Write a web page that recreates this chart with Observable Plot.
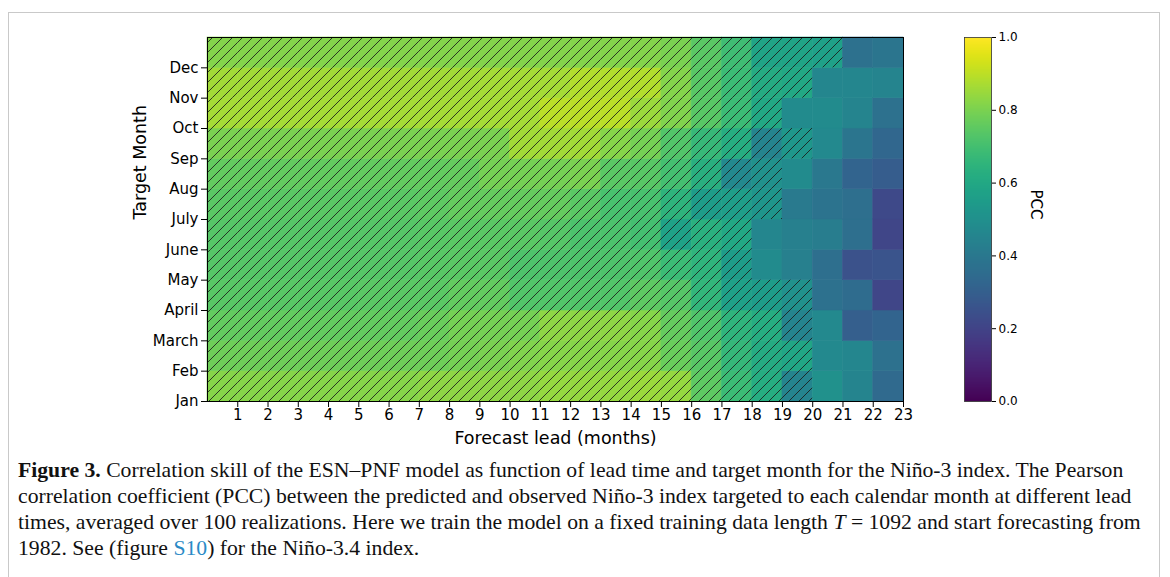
<!DOCTYPE html>
<html>
<head>
<meta charset="utf-8">
<script src="https://cdn.jsdelivr.net/npm/d3@7"></script>
<script src="https://cdn.jsdelivr.net/npm/@observablehq/plot@0.6"></script>
<style>
  html, body { margin: 0; padding: 0; background: #fff; }
  body { width: 1170px; height: 577px; overflow: hidden; position: relative; }
  #frame { position: absolute; left: 8px; top: 12px; width: 1152px; height: 620px; border: 1px solid #c9c9c9; box-sizing: border-box; }
  #main { position: absolute; left: 0; top: 0; }
  #cbar { position: absolute; left: 963px; top: 0; }
  #caption { position: absolute; left: 18px; top: 457px; font-family: "Liberation Serif", serif; font-size: 21.7px; line-height: 26px; color: #111; white-space: nowrap; }
  #caption .lnk { color: #2a8ac6; }
</style>
</head>
<body>
<div id="frame"></div>
<div id="main"></div>
<div id="cbar"></div>
<div id="caption">
<b>Figure 3.</b> Correlation skill of the ESN–PNF model as function of lead time and target month for the Niño-3 index. The Pearson<br>
correlation coefficient (PCC) between the predicted and observed Niño-3 index targeted to each calendar month at different lead<br>
times, averaged over 100 realizations. Here we train the model on a fixed training data length <i>T</i> = 1092 and start forecasting from<br>
1982. See (figure <span class="lnk">S10</span>) for the Niño-3.4 index.
</div>
<script>
// Target month labels (row order, bottom to top)
const monthLabels = ["Jan", "Feb", "March", "April", "May", "June", "July", "Aug", "Sep", "Oct", "Nov", "Dec"];
// Forecast leads 1..23
const leads = [1,2,3,4,5,6,7,8,9,10,11,12,13,14,15,16,17,18,19,20,21,22,23];
// PCC per target month, leads 1..23
const pccJan  = [0.82,0.82,0.82,0.82,0.82,0.82,0.82,0.83,0.83,0.83,0.83,0.84,0.84,0.84,0.85,0.84,0.75,0.68,0.62,0.45,0.50,0.45,0.34];
const pccFeb  = [0.78,0.78,0.78,0.78,0.78,0.78,0.78,0.78,0.79,0.80,0.81,0.82,0.82,0.82,0.82,0.77,0.74,0.665,0.61,0.59,0.47,0.46,0.37];
const pccMar  = [0.76,0.76,0.76,0.76,0.76,0.76,0.76,0.77,0.79,0.79,0.79,0.83,0.83,0.83,0.82,0.765,0.725,0.65,0.62,0.45,0.47,0.30,0.32];
const pccApr  = [0.74,0.74,0.74,0.74,0.74,0.745,0.745,0.745,0.76,0.76,0.73,0.73,0.73,0.73,0.75,0.735,0.66,0.57,0.55,0.50,0.37,0.35,0.21];
const pccMay  = [0.735,0.735,0.735,0.735,0.735,0.735,0.735,0.74,0.745,0.745,0.72,0.72,0.72,0.72,0.725,0.68,0.65,0.55,0.48,0.43,0.36,0.25,0.26];
const pccJun  = [0.735,0.735,0.735,0.735,0.735,0.735,0.735,0.74,0.745,0.745,0.745,0.735,0.715,0.715,0.70,0.575,0.635,0.60,0.46,0.43,0.42,0.36,0.21];
const pccJul  = [0.745,0.745,0.745,0.745,0.745,0.745,0.745,0.75,0.765,0.765,0.765,0.765,0.745,0.71,0.71,0.645,0.55,0.555,0.52,0.41,0.38,0.36,0.22];
const pccAug  = [0.76,0.76,0.76,0.76,0.76,0.76,0.76,0.76,0.765,0.79,0.79,0.79,0.80,0.745,0.74,0.70,0.63,0.47,0.50,0.48,0.40,0.32,0.29];
const pccSep  = [0.80,0.80,0.80,0.80,0.80,0.80,0.80,0.80,0.80,0.80,0.86,0.86,0.86,0.82,0.79,0.73,0.67,0.62,0.45,0.53,0.47,0.39,0.33];
const pccOct  = [0.865,0.865,0.865,0.865,0.865,0.865,0.865,0.865,0.865,0.865,0.865,0.895,0.895,0.895,0.85,0.81,0.74,0.68,0.60,0.48,0.48,0.45,0.37];
const pccNov  = [0.86,0.86,0.86,0.86,0.86,0.86,0.86,0.86,0.86,0.865,0.865,0.865,0.885,0.885,0.885,0.815,0.74,0.68,0.61,0.60,0.46,0.46,0.45];
const pccDec  = [0.815,0.815,0.815,0.815,0.815,0.815,0.815,0.815,0.815,0.815,0.815,0.815,0.815,0.815,0.815,0.80,0.745,0.69,0.585,0.585,0.57,0.37,0.39];
// Last lead (per target month) whose PCC is hatched (significant)
const sigLastLead = [20, 20, 20, 20, 18, 18, 19, 19, 20, 19, 20, 21];
// Colorbar ticks
const cbarTicks = [0.0, 0.2, 0.4, 0.6, 0.8, 1.0];

const pccRows = [pccJan, pccFeb, pccMar, pccApr, pccMay, pccJun, pccJul, pccAug, pccSep, pccOct, pccNov, pccDec];
const cells = [];
pccRows.forEach((row, m) => row.forEach((v, i) => {
  cells.push({month: m, lead: leads[i], pcc: v, sig: leads[i] <= sigLastLead[m]});
}));
const hatched = cells.filter(d => d.sig);

const FONT = "DejaVu Sans";
const color = {type: "linear", scheme: "viridis", domain: [0, 1]};

const main = Plot.plot({
  width: 920, height: 451,
  marginTop: 37, marginLeft: 207, marginRight: 17, marginBottom: 50,
  style: {fontFamily: FONT, fontSize: "15px", color: "#000", background: "transparent"},
  x: {type: "linear", domain: [0, 23]},
  y: {type: "linear", domain: [0, 12]},
  color,
  marks: [
    Plot.rect(cells, {x1: d => d.lead - 1, x2: "lead", y1: "month", y2: d => d.month + 1, fill: "pcc", stroke: "pcc", strokeWidth: 0.6}),
    Plot.rect(hatched, {x1: d => d.lead - 1, x2: "lead", y1: "month", y2: d => d.month + 1, fill: "url(#hatch)"}),
    Plot.frame({stroke: "#000", strokeWidth: 1}),
    Plot.axisX({ticks: leads, tickFormat: d => String(d), tickSize: 6, tickPadding: 2, fontSize: 15, label: null}),
    Plot.axisY({ticks: d3.range(12), tickFormat: i => monthLabels[i], tickSize: 6, tickPadding: 3, fontSize: 15, label: null}),
    Plot.text(["Forecast lead (months)"], {frameAnchor: "bottom", lineAnchor: "middle", dy: 37, fontSize: 17.5}),
    Plot.text(["Target Month"], {frameAnchor: "left", lineAnchor: "middle", dx: -67, rotate: -90, fontSize: 17.5})
  ]
});
d3.select(main).insert("defs", ":first-child").html(
  '<pattern id="hatch" patternUnits="userSpaceOnUse" width="10" height="10">' +
  '<path d="M-2,2 L2,-2 M0,10 L10,0 M8,12 L12,8" stroke="#1a1a1a" stroke-width="0.85" fill="none"/></pattern>'
);
document.getElementById("main").append(main);

const cbar = Plot.plot({
  width: 110, height: 451,
  marginTop: 37, marginBottom: 50, marginLeft: 1, marginRight: 82,
  style: {fontFamily: FONT, fontSize: "12px", color: "#000", background: "transparent"},
  x: {type: "linear", domain: [0, 1], axis: null},
  y: {type: "linear", domain: [0, 1]},
  color,
  marks: [
    Plot.raster({x1: 0, x2: 1, y1: 0, y2: 1, width: 1, height: 256, fill: (x, y) => y, imageRendering: "auto"}),
    Plot.frame({stroke: "#333", strokeWidth: 0.8}),
    Plot.axisY({anchor: "right", ticks: cbarTicks, tickFormat: ".1f", tickSize: 4, tickPadding: 3, fontSize: 12, label: null}),
    Plot.text(["PCC"], {frameAnchor: "right", dx: 44, rotate: 90, fontSize: 15})
  ]
});
document.getElementById("cbar").append(cbar);
</script>
</body>
</html>
